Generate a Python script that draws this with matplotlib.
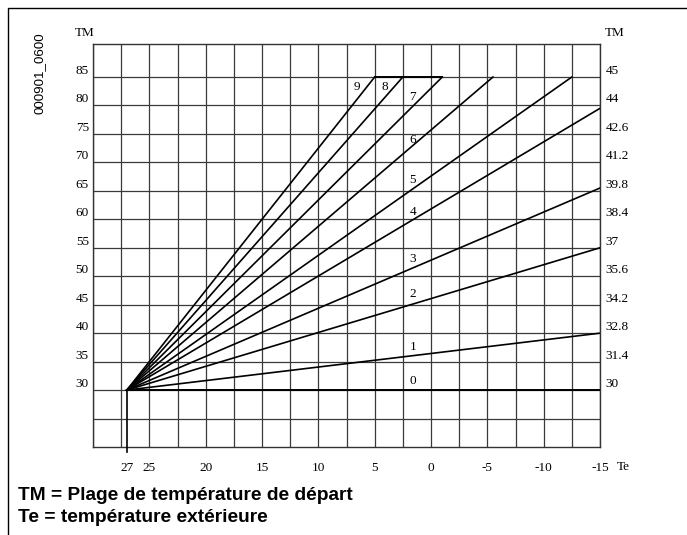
import matplotlib
matplotlib.use("Agg")
import matplotlib.pyplot as plt
from matplotlib.lines import Line2D

# Courbes de chauffe: toutes partent de (Te=27, TM=30)
courbes = ["0", "1", "2", "3", "4", "5", "6", "7", "8", "9"]
te_fin = [-15, -15, -15, -15, -15, -12.5, -5.5, -1, 2.5, 5]
tm_fin = [30, 40, 55, 65.5, 79.5, 85, 85, 85, 85, 85]
te_depart = 27
tm_depart = 30

# Position des numéros de courbe
te_num = [1.9, 1.9, 1.9, 1.9, 1.9, 1.9, 1.9, 1.9, 4.4, 6.9]
tm_num = [31.6, 37.6, 46.9, 53.0, 61.3, 66.9, 73.9, 81.5, 83.2, 83.2]

tm_gauche = [30, 35, 40, 45, 50, 55, 60, 65, 70, 75, 80, 85]
tm_droite = ["30", "31.4", "32.8", "34.2", "35.6", "37", "38.4", "39.8",
             "41.2", "42.6", "44", "45"]
te_ticks = [27, 25, 20, 15, 10, 5, 0, -5, -10, -15]

grille_te = [30 - 2.5 * k for k in range(19)]
grille_tm = [25, 30, 35, 40, 45, 50, 55, 60, 65, 70, 75, 80, 85]

W, H = 687, 535
fig = plt.figure(figsize=(W / 100, H / 100), dpi=100)
ax = fig.add_axes([93 / W, (H - 447) / H, 507 / W, 403 / H])
ax.set_xlim(30, -15)
ax.set_ylim(20, 90.8)

serif = "Liberation Serif"
fs = 9.5

# grille
for x in grille_te:
    ax.axvline(x, color="#3a3a3a", lw=0.9, zorder=1)
for y in grille_tm:
    ax.axhline(y, color="#3a3a3a", lw=0.9, zorder=1)
ax.plot([27, -15], [30, 30], color="black", lw=1.3, zorder=2)
ax.plot([5, -1], [85, 85], color="black", lw=1.4, zorder=2)

# courbes
for i in range(len(courbes)):
    ax.plot([te_depart, te_fin[i]], [tm_depart, tm_fin[i]], color="black",
            lw=1.2, zorder=3)
    ax.text(te_num[i], tm_num[i], courbes[i], family=serif, fontsize=fs,
            ha="left", va="center", zorder=4)

# trait de repère à 27
ax.plot([27, 27], [30, 19.1], color="black", lw=1.2, clip_on=False, zorder=3)

for s in ax.spines.values():
    s.set_linewidth(1.0)
    s.set_color("#333333")

ax.set_yticks(tm_gauche)
ax.set_yticklabels([str(v) for v in tm_gauche], family=serif, fontsize=fs,
                   va="bottom")
ax.set_xticks(te_ticks)
ax.set_xticklabels([str(v) for v in te_ticks], family=serif, fontsize=fs)
ax.tick_params(axis="y", length=0, pad=3)
ax.tick_params(axis="x", length=0, pad=11)

ax2 = ax.twinx()
ax2.set_ylim(ax.get_ylim())
ax2.set_yticks(tm_gauche)
ax2.set_yticklabels(tm_droite, family=serif, fontsize=fs, va="bottom")
ax2.tick_params(axis="y", length=0, pad=4)
for s in ax2.spines.values():
    s.set_visible(False)

fig.text(75 / W, 1 - 33 / H, "TM", family=serif, fontsize=fs, va="center")
fig.text(605 / W, 1 - 33 / H, "TM", family=serif, fontsize=fs, va="center")
fig.text(617 / W, 1 - 467 / H, "Te", family=serif, fontsize=fs, va="center")

fig.text(40 / W, 1 - 73 / H, "000901_0600", family="Liberation Sans",
         fontsize=9.6, rotation=90, ha="center", va="center")

fig.text(18 / W, 1 - 495 / H, "TM = Plage de température de départ",
         family="Liberation Sans", fontweight="bold", fontsize=13.8,
         va="center")
fig.text(18 / W, 1 - 518 / H, "Te = température extérieure",
         family="Liberation Sans", fontweight="bold", fontsize=13.8,
         va="center")

# cadre extérieur
fig.add_artist(Line2D([8 / W, 8 / W, 1], [0, 1 - 8 / H, 1 - 8 / H],
                      transform=fig.transFigure, color="black", lw=1.0))

fig.savefig("out.png", dpi=100)
